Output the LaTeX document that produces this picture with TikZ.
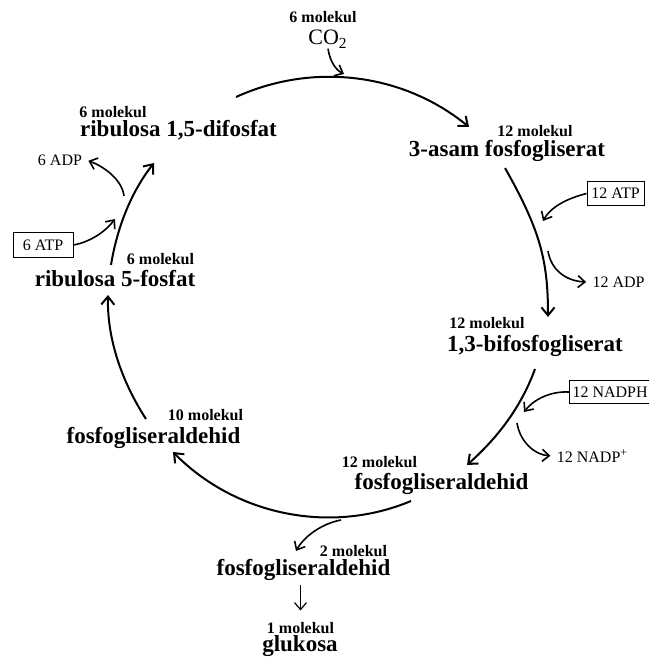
\documentclass[tikz,border=0pt]{standalone}
\usepackage{fontspec}
\setmainfont{Liberation Serif}
\usetikzlibrary{arrows.meta}

\begin{document}
\begin{tikzpicture}[x=0.5pt, y=-0.5pt,
	molecule/.style={black, anchor=base, inner sep=0pt, font=\fontsize{11.5}{13}\selectfont\bfseries},
	amount/.style={black, anchor=base, inner sep=0pt, font=\fontsize{8}{9}\selectfont\bfseries},
	cofactor/.style={black, anchor=base, inner xsep=3pt, inner ysep=0pt, font=\fontsize{8}{9}\selectfont},
	cofbox/.style={draw=black, line width=0.5pt, inner xsep=1.5pt, minimum height=10.5pt, font=\fontsize{8}{9}\selectfont},
	cyclearrow/.style={draw=black, line width=1pt, -{Straight Barb[length=4pt,width=6.5pt]}},
	sidearrow/.style={draw=black, line width=0.8pt, -{Straight Barb[length=3.5pt,width=6pt]}}]
	\useasboundingbox (0,0) rectangle (648,657);
	\node[amount] (nco2) at (323,23) {6 molekul};
	\node[black, anchor=base, inner sep=0pt, font=\fontsize{11}{13}\selectfont] (co2) at (328,45) {CO\textsubscript{2}};
	\node[amount] (nrdp) at (113,118) {6 molekul};
	\node[molecule] (rdp) at (178.5,137) {ribulosa 1,5-difosfat};
	\node[amount] (npga) at (535,137) {12 molekul};
	\node[molecule] (pga) at (507,157) {3-asam fosfogliserat};
	\node[amount] (nbpg) at (487,328.3) {12 molekul};
	\node[molecule] (bpg) at (535,351.3) {1,3-bifosfogliserat};
	\node[amount] (npgal12) at (379.5,467.3) {12 molekul};
	\node[molecule] (pgal12) at (441.5,489.7) {fosfogliseraldehid};
	\node[amount] (npgal10) at (205.5,420.7) {10 molekul};
	\node[molecule] (pgal10) at (153.5,443) {fosfogliseraldehid};
	\node[amount] (nr5p) at (160.5,264.7) {6 molekul};
	\node[molecule] (r5p) at (115,286.7) {ribulosa 5-fosfat};
	\node[amount] (npgal2) at (353.5,556.3) {2 molekul};
	\node[molecule] (pgal2) at (303.5,575.7) {fosfogliseraldehid};
	\node[amount] (nglc) at (300.5,633) {1 molekul};
	\node[molecule] (glc) at (300,651.3) {glukosa};
	\node[cofbox, minimum width=28.5pt] (atp12) at (615.5,193.5) {12 ATP};
	\node[cofactor] (adp12) at (618.5,287.3) {12 ADP};
	\node[cofbox, anchor=west] (nadph) at (569,392) {12 NADPH};
	\node[cofactor] (nadp) at (592.5,462) {12 NADP\textsuperscript{+}};
	\node[cofbox, minimum width=30pt] (atp6) at (43,245) {6 ATP};
	\node[cofactor] (adp6) at (60,166) {6 ADP};
	\coordinate (rdpout) at (236,97);
	\coordinate (co2in) at (344,74);
	\coordinate (pgain) at (469,127);
	\coordinate (pgaout) at (505,168);
	\coordinate (atp12in) at (543,221);
	\coordinate (adp12out) at (548,251);
	\coordinate (bpgin) at (548,317);
	\coordinate (bpgout) at (535,369);
	\coordinate (nadphin) at (524,412);
	\coordinate (nadpout) at (517,423);
	\coordinate (pgal12in) at (467,465);
	\coordinate (pgal12out) at (411,501);
	\coordinate (branchout) at (341,520);
	\coordinate (pgal2in) at (296,551);
	\coordinate (pgal10in) at (173,452);
	\coordinate (pgal10out) at (146,419);
	\coordinate (r5pin) at (108,295);
	\coordinate (r5pout) at (111,265);
	\coordinate (atp6in) at (115,219);
	\coordinate (adp6out) at (124,196);
	\coordinate (rdpin) at (154,163);
	\draw[cyclearrow] (rdpout) .. controls (313,62) and (403,73) .. (pgain);
	\draw[sidearrow] (co2.south) .. controls (330,62) and (336,70) .. (co2in);
	\draw[cyclearrow] (pgaout) .. controls (540,230) and (548,260) .. (bpgin);
	\draw[sidearrow] (atp12.west) .. controls (565,199) and (550,208) .. (atp12in);
	\draw[sidearrow] (adp12out) .. controls (551,270) and (566,281) .. (adp12.west);
	\draw[cyclearrow] (bpgout) .. controls (520,410) and (495,440) .. (pgal12in);
	\draw[sidearrow] (nadph.west) .. controls (550,391) and (533,400) .. (nadphin);
	\draw[sidearrow] (nadpout) .. controls (520,442) and (535,455) .. (nadp.west);
	\draw[cyclearrow] (pgal12out) .. controls (330,535) and (235,515) .. (pgal10in);
	\draw[sidearrow] (branchout) .. controls (320,524) and (303,538) .. (pgal2in);
	\draw[sidearrow, line width=0.6pt, shorten <=2pt, shorten >=5.5pt] (nglc.north |- pgal2.south) -- (nglc.north);
	\draw[cyclearrow] (pgal10out) .. controls (122,382) and (107,339) .. (r5pin);
	\draw[cyclearrow] (r5pout) .. controls (117,228) and (131,192) .. (rdpin);
	\draw[sidearrow] (atp6.east) .. controls (90,242) and (105,232) .. (atp6in);
	\draw[sidearrow] (adp6out) .. controls (122,180) and (105,167) .. (adp6.east);
\end{tikzpicture}
\end{document}
